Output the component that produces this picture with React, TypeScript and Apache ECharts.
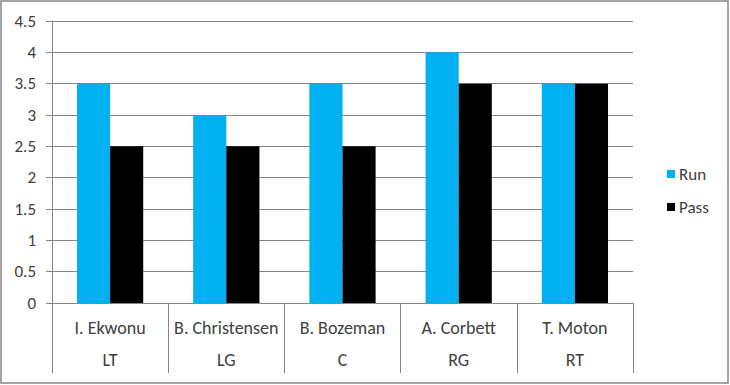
import React, { useEffect, useRef } from "react";
import * as echarts from "echarts";

const players = ["I. Ekwonu", "B. Christensen", "B. Bozeman", "A. Corbett", "T. Moton"];
const positions = ["LT", "LG", "C", "RG", "RT"];
const runValues = [3.5, 3, 3.5, 4, 3.5];
const passValues = [2.5, 2.5, 2.5, 3.5, 3.5];

const FONT = 'Carlito, Calibri, "Noto Sans", sans-serif';
const TEXT = "#404040";
const LINE = "#868686";

export default function App() {
  const ref = useRef<HTMLDivElement>(null);
  useEffect(() => {
    document.body.style.margin = "0";
    const chart = echarts.init(ref.current!, null, { renderer: "svg" });
    chart.setOption({
      animation: false,
      backgroundColor: "#fff",
      textStyle: { fontFamily: FONT, color: TEXT },
      graphic: [
        {
          type: "rect",
          shape: { x: 1, y: 1, width: 727, height: 382 },
          style: { fill: "none", stroke: LINE, lineWidth: 1.5 },
          silent: true,
        },
      ],
      grid: { left: 52, right: 97, top: 21, bottom: 82, containLabel: false },
      legend: {
        orient: "vertical",
        left: 662,
        top: 159,
        itemWidth: 8,
        itemHeight: 8,
        itemGap: 13,
        icon: "rect",
        textStyle: { fontFamily: FONT, fontSize: 17, color: TEXT, lineHeight: 20, padding: [0, 0, 0, -1] },
        data: ["Run", "Pass"],
      },
      xAxis: {
        type: "category",
        data: players,
        axisLine: { lineStyle: { color: LINE, width: 1 } },
        axisTick: { show: true, interval: 0, length: 70, lineStyle: { color: LINE } },
        axisLabel: {
          interval: 0,
          margin: 9,
          fontFamily: FONT,
          fontSize: 18,
          color: TEXT,
          lineHeight: 32,
          formatter: (v: string, i: number) => v + "\n" + positions[i],
        },
      },
      yAxis: {
        type: "value",
        min: 0,
        max: 4.5,
        interval: 0.5,
        axisLine: { show: true, lineStyle: { color: LINE } },
        axisTick: { show: true, length: 6, lineStyle: { color: LINE } },
        splitLine: { show: true, lineStyle: { color: LINE } },
        axisLabel: { margin: 16, fontFamily: FONT, fontSize: 17, color: TEXT },
      },
      series: [
        {
          name: "Run",
          type: "bar",
          data: runValues,
          itemStyle: { color: "#00B0F0" },
          barGap: "0%",
          barCategoryGap: "43%",
        },
        {
          name: "Pass",
          type: "bar",
          data: passValues,
          itemStyle: { color: "#000000" },
          barGap: "0%",
          barCategoryGap: "43%",
        },
      ],
    });
    return () => chart.dispose();
  }, []);
  return (
    <div
      ref={ref}
      style={{ position: "fixed", left: 0, top: 0, width: 730, height: 385 }}
    />
  );
}
